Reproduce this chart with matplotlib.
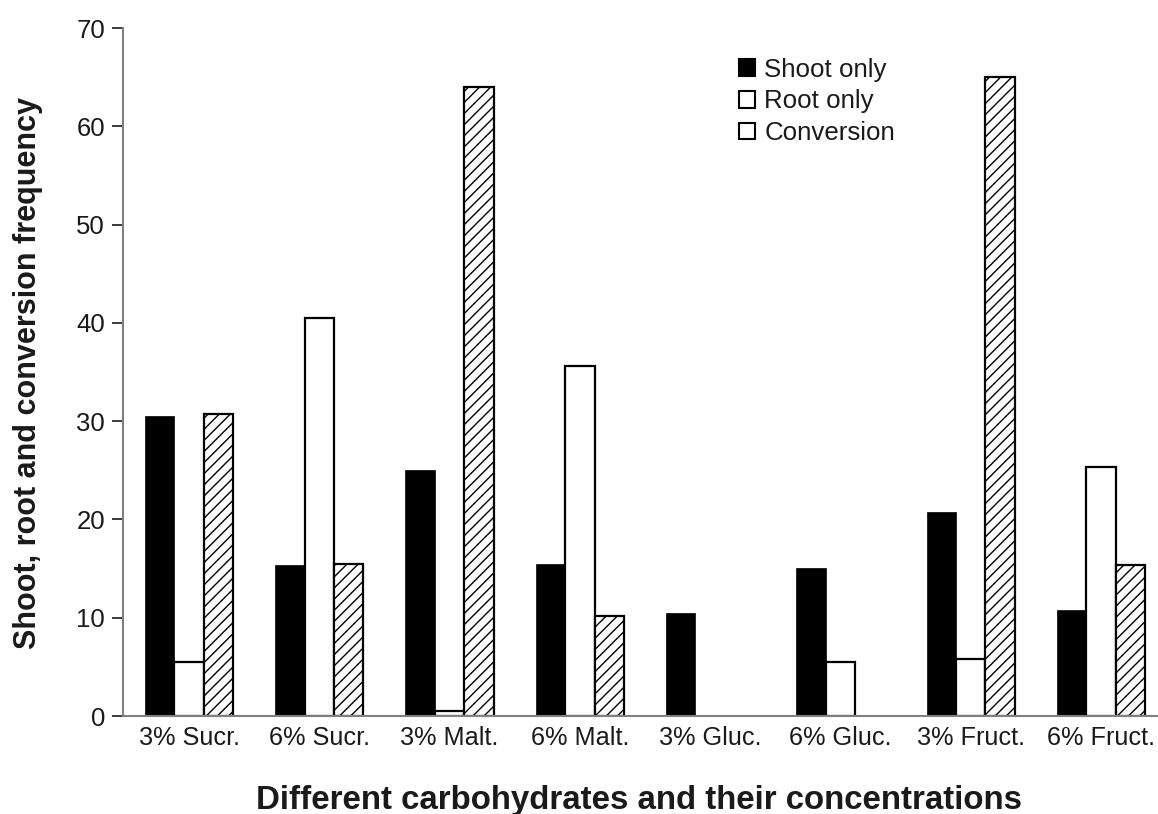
import matplotlib
matplotlib.use("Agg")
import matplotlib.pyplot as plt
from matplotlib.patches import Patch
import numpy as np

categories = ["3% Sucr.", "6% Sucr.", "3% Malt.", "6% Malt.", "3% Gluc.", "6% Gluc.", "3% Fruct.", "6% Fruct."]
shoot_only = [30.5, 15.4, 25.0, 15.5, 10.5, 15.1, 20.8, 10.8]
root_only = [5.5, 40.5, 0.5, 35.6, 0.0, 5.5, 5.8, 25.3]
conversion = [30.7, 15.5, 64.0, 10.2, 0.0, 0.0, 65.0, 15.4]
series_labels = ["Shoot only", "Root only", "Conversion"]
y_ticks = [0, 10, 20, 30, 40, 50, 60, 70]

plt.rcParams['font.family'] = ['Liberation Sans', 'DejaVu Sans']
plt.rcParams['hatch.linewidth'] = 1.0

fig = plt.figure(figsize=(11.58, 8.14), dpi=100)
ax = fig.add_axes([123/1158, 98/814, 1 - 123/1158, (716-28)/814])

x = np.arange(len(categories))
w = 0.226

def lws(vals, lw):
    return [lw if v > 0 else 0 for v in vals]

ax.bar(x - w, shoot_only, w, color='black', edgecolor='black', linewidth=lws(shoot_only, 0.5))
ax.bar(x, root_only, w, color='white', edgecolor='black', linewidth=lws(root_only, 1.6))
ax.bar(x + w, conversion, w, color='white', edgecolor='black', hatch='///', linewidth=lws(conversion, 1.6))

ax.set_ylim(0, 70)
ax.set_xlim(-0.507, 7 + 57/130.3)
ax.set_yticks(y_ticks)
ax.set_xticks(x)
ax.set_xticklabels(categories)
ax.tick_params(axis='x', length=0, labelsize=18.2, pad=7, colors='#1a1a1a')
ax.tick_params(axis='y', length=8, width=1.2, labelsize=18.5, pad=5, colors='#1a1a1a')

for s in ['top', 'right']:
    ax.spines[s].set_visible(False)
for s in ['left', 'bottom']:
    ax.spines[s].set_color('#808080')
    ax.spines[s].set_linewidth(1.5)

ax.set_ylabel("Shoot, root and conversion frequency", fontsize=22, fontweight='bold', color='#1a1a1a')
ax.yaxis.set_label_coords((43-123)/1035, 0.4985)
ax.set_xlabel("Different carbohydrates and their concentrations", fontsize=23.8, fontweight='bold', color='#1a1a1a')
ax.xaxis.set_label_coords((639-123)/1035, -(785-716)/688)

handles = [Patch(facecolor='black', edgecolor='black', linewidth=1.5),
           Patch(facecolor='white', edgecolor='black', linewidth=1.5),
           Patch(facecolor='white', edgecolor='black', linewidth=1.5)]
leg = ax.legend(handles, series_labels, loc='upper left', bbox_to_anchor=((729-123)/(1158-123), 0.972),
                frameon=False, fontsize=18.6, handlelength=0.62, handleheight=0.62,
                handletextpad=0.35, labelspacing=0.3, borderaxespad=0)
for t in leg.get_texts():
    t.set_color('#1a1a1a')

fig.savefig("out.png", dpi=100)
